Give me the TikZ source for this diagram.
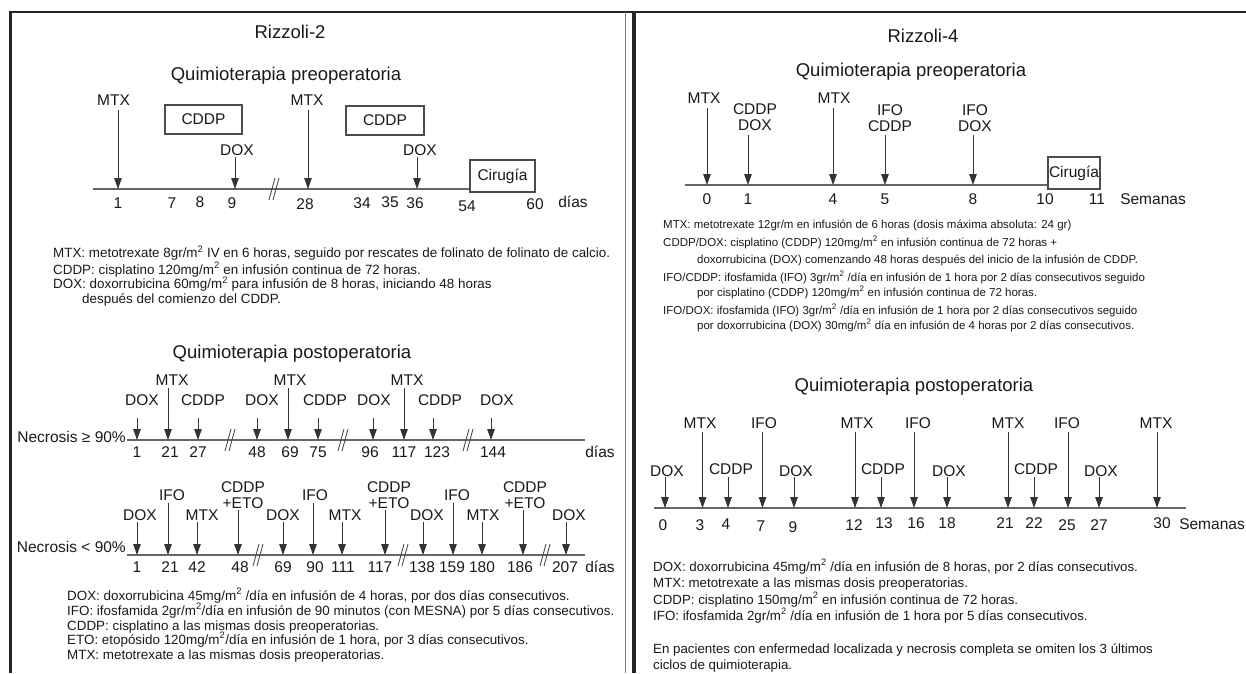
\documentclass[tikz,border=0pt]{standalone}
\usepackage{fontspec}
\setmainfont{Liberation Sans}
\usetikzlibrary{arrows.meta}
\newcommand\sq{\textsuperscript{2}}
\begin{document}
\begin{tikzpicture}[x=1pt,y=-1pt,
  lbl/.style={font=\fontsize{15.5}{16}\selectfont, inner sep=0pt, text=black!90, align=center},
  ttl/.style={font=\fontsize{18.5}{20}\selectfont, inner sep=0pt, anchor=base, text=black!90},
  num/.style={font=\fontsize{15.5}{16}\selectfont, inner sep=0pt, text=black!90},
  sm/.style={font=\fontsize{11.5}{14}\selectfont, inner sep=0pt, anchor=base west, text=black!90},
  smL/.style={font=\fontsize{13.4}{15}\selectfont, inner sep=0pt, anchor=base west, text=black!90},
  smR/.style={font=\fontsize{13.3}{15}\selectfont, inner sep=0pt, anchor=base west, text=black!90},
  arr/.style={draw=black!80, line width=1pt, -{Triangle[length=11pt,width=7.5pt]}},
  tline/.style={draw=black!60, line width=1.5pt},
  bx/.style={draw=black!70, line width=1.2pt, inner sep=0pt, font=\fontsize{15.5}{16}\selectfont, text=black!90},
  frm/.style={draw=black!85, line width=3pt},
  brk/.pic={\draw[black!70, line width=0.9pt] (-5,11) -- (1,-11) (-1,11) -- (5,-11);}]
\useasboundingbox (0,0) rectangle (1246,673);
% frames
\draw[frm, line width=2.5pt] (10,12) -- (1246,12);
\draw[frm] (10,11) -- (10,673);
\draw[draw=black!50, line width=0.8pt] (625,12) -- (625,673);
\draw[frm, line width=3.5pt] (634,11) -- (634,673);

% ================= LEFT PANEL =================
\node[ttl] (t2) at (290,38.5) {Rizzoli-2};
\node[ttl] (q2a) at (286,80) {Quimioterapia preoperatoria};
\node[bx, minimum width=77pt, minimum height=29pt] (cd1) at (203.5,119.5) {CDDP};
\node[bx, minimum width=78pt, minimum height=29pt] (cd2) at (385,120.5) {CDDP};
\node[bx, minimum width=65pt, minimum height=32pt] (cirL) at (502.5,176) {Cirugía};
\coordinate (tlA) at (93,189);
\draw[tline] (tlA) -- (tlA -| cirL.west);
\foreach \x/\ys/\lx/\ly/\t [count=\i] in {118/110/113.5/100/MTX, 235/157/237/150/DOX, 308/110/307/100/MTX, 417/157/420/150/DOX}{
  \node[lbl] (pa\i) at (\lx,\ly) {\t};
  \coordinate (pas\i) at (\x,\ys);
  \coordinate (pae\i) at (\x,189);
  \draw[arr] (pas\i) -- (pae\i);
}
\pic at (274,189) {brk};
\foreach \x/\y/\t [count=\i] in {118/203/1, 172/203/7, 200/202/8, 232/203/9, 305/204/28, 362/203/34, 390/202/35, 415/203/36, 467/206/54, 535/204/60, 573/202/días}{
  \node[num] (pn\i) at (\x,\y) {\t};
}
\node[smL] (la1) at (53,257.5) {MTX: metotrexate 8gr/m\sq{} IV en 6 horas, seguido por rescates de folinato de folinato de calcio.};
\node[smL] (la2) at (53,274) {CDDP: cisplatino 120mg/m\sq{} en infusión continua de 72 horas.};
\node[smL] (la3) at (53,288.5) {DOX: doxorrubicina 60mg/m\sq{} para infusión de 8 horas, iniciando 48 horas};
\node[smL] (la4) at (82,303) {después del comienzo del CDDP.};

\node[ttl] (q2b) at (292,358) {Quimioterapia postoperatoria};
% row 1
\node[lbl, anchor=east] (nec1) at (126,437) {Necrosis ≥ 90\%};
\coordinate (tlB) at (127,440);
\coordinate (tlBe) at (585,440);
\draw[tline] (tlB) -- (tlBe);
\foreach \x/\ys/\lx/\ly/\t [count=\i] in {137/418/142/400/DOX, 168/388/172/380/MTX, 198/418/203/400/CDDP, 257/418/262/400/DOX, 288/388/290/380/MTX, 318/418/325/400/CDDP, 373/418/374/400/DOX, 404/388/407/380/MTX, 433/418/440/400/CDDP, 491/418/497/400/DOX}{
  \node[lbl] (r1\i) at (\lx,\ly) {\t};
  \coordinate (r1s\i) at (\x,\ys);
  \coordinate (r1e\i) at (\x,440);
  \draw[arr] (r1s\i) -- (r1e\i);
}
\foreach \x in {230,343,468}{ \pic at (\x,440) {brk}; }
\foreach \x/\t [count=\i] in {137/1, 170/21, 198/27, 257/48, 290/69, 318/75, 370/96, 404/117, 437/123, 493/144, 600/días}{
  \node[num] (r1n\i) at (\x,452) {\t};
}
% row 2
\node[lbl, anchor=east] (nec2) at (126,547) {Necrosis < 90\%};
\coordinate (tlC) at (127,555);
\coordinate (tlCe) at (585,555);
\draw[tline] (tlC) -- (tlCe);
\foreach \x/\ys/\lx/\ly/\t [count=\i] in {137/522/140/515/DOX, 168/503/172/495/IFO, 197/522/202/515/MTX, 238/510/243/495/{CDDP\\+ETO}, 283/522/283/515/DOX, 313/503/315/495/IFO, 342/522/345/515/MTX, 385/510/389/495/{CDDP\\+ETO}, 423/522/427/515/DOX, 453/503/457/495/IFO, 482/522/483/515/MTX, 523/510/525/495/{CDDP\\+ETO}, 566/522/569/515/DOX}{
  \node[lbl] (r2\i) at (\lx,\ly) {\t};
  \coordinate (r2s\i) at (\x,\ys);
  \coordinate (r2e\i) at (\x,555);
  \draw[arr] (r2s\i) -- (r2e\i);
}
\foreach \x in {258,403,545}{ \pic at (\x,555) {brk}; }
\foreach \x/\t [count=\i] in {137/1, 170/21, 197/42, 240/48, 283/69, 315/90, 343/111, 380/117, 422/138, 452/159, 482/180, 520/186, 565/207, 600/días}{
  \node[num] (r2n\i) at (\x,567) {\t};
}
\node[smL] (lb1) at (67,600) {DOX: doxorrubicina 45mg/m\sq{} /día en infusión de 4 horas, por dos días consecutivos.};
\node[smL] (lb2) at (67,615) {IFO: ifosfamida 2gr/m\sq{}/día en infusión de 90 minutos (con MESNA) por 5 días consecutivos.};
\node[smL] (lb3) at (67,630) {CDDP: cisplatino a las mismas dosis preoperatorias.};
\node[smL] (lb4) at (67,644) {ETO: etopósido 120mg/m\sq{}/día en infusión de 1 hora, por 3 días consecutivos.};
\node[smL] (lb5) at (67,659) {MTX: metotrexate a las mismas dosis preoperatorias.};

% ================= RIGHT PANEL =================
\node[ttl] (t4) at (923,42) {Rizzoli-4};
\node[ttl] (q4a) at (911,76) {Quimioterapia preoperatoria};
\node[bx, minimum width=52pt, minimum height=32pt] (cirR) at (1074,173) {Cirugía};
\coordinate (tlD) at (685,185);
\draw[tline] (tlD) -- (tlD -| cirR.west);
\foreach \x/\ys/\lx/\ly/\t [count=\i] in {707/108/704/98/MTX, 748/135/755/117/{CDDP\\DOX}, 833/108/834/98/MTX, 885/135/890/118.5/{IFO\\CDDP}, 973/135/975/118/{IFO\\DOX}}{
  \node[lbl] (pb\i) at (\lx,\ly) {\t};
  \coordinate (pbs\i) at (\x,\ys);
  \coordinate (pbe\i) at (\x,185);
  \draw[arr] (pbs\i) -- (pbe\i);
}
\foreach \x/\t [count=\i] in {707/0, 748/1, 833/4, 885/5, 973/8, 1045/10, 1097/11, 1153/Semanas}{
  \node[num] (pbn\i) at (\x,199) {\t};
}
\node[sm] (ra1) at (663,228) {MTX: metotrexate 12gr/m en infusión de 6 horas (dosis máxima absoluta: 24 gr)};
\node[sm] (ra2) at (663,246) {CDDP/DOX: cisplatino (CDDP) 120mg/m\sq{} en infusión continua de 72 horas +};
\node[sm] (ra3) at (697,263) {doxorrubicina (DOX) comenzando 48 horas después del inicio de la infusión de CDDP.};
\node[sm] (ra4) at (663,281) {IFO/CDDP: ifosfamida (IFO) 3gr/m\sq{} /día en infusión de 1 hora por 2 días consecutivos seguido};
\node[sm] (ra5) at (697,296) {por cisplatino (CDDP) 120mg/m\sq{} en infusión continua de 72 horas.};
\node[sm] (ra6) at (663,314) {IFO/DOX: ifosfamida (IFO) 3gr/m\sq{} /día en infusión de 1 hora por 2 días consecutivos seguido};
\node[sm] (ra7) at (697,329) {por doxorrubicina (DOX) 30mg/m\sq{} día en infusión de 4 horas por 2 días consecutivos.};

\node[ttl] (q4b) at (914,391) {Quimioterapia postoperatoria};
\coordinate (tlE) at (654,508);
\coordinate (tlEe) at (1186,508);
\draw[tline] (tlE) -- (tlEe);
\foreach \x/\ys/\lx/\ly/\t [count=\i] in {665/477/667/471/DOX, 702.5/432/700/423/MTX, 728/477/731/469/CDDP, 762.5/432/764/423/IFO, 794/477/796/471/DOX, 855/432/857/423/MTX, 881/477/883/469/CDDP, 914/432/918/423/IFO, 947/477/949/471/DOX, 1008/432/1008/423/MTX, 1034/477/1036/469/CDDP, 1068/432/1067/423/IFO, 1099/477/1101/471/DOX, 1157/432/1156/423/MTX}{
  \node[lbl] (qb\i) at (\lx,\ly) {\t};
  \coordinate (qbs\i) at (\x,\ys);
  \coordinate (qbe\i) at (\x,508);
  \draw[arr] (qbs\i) -- (qbe\i);
}
\foreach \x/\y/\t [count=\i] in {663/525/0, 700/525/3, 726/524/4, 761/526/7, 793/527/9, 854/525/12, 884/523/13, 916/523/16, 947/523/18, 1005/523/21, 1034/523/22, 1067/525/25, 1099/525/27, 1162/523/30, 1212/524/Semanas}{
  \node[num] (qbn\i) at (\x,\y) {\t};
}
\node[smR] (rb1) at (653,571) {DOX: doxorrubicina 45mg/m\sq{} /día en infusión de 8 horas, por 2 días consecutivos.};
\node[smR] (rb2) at (653,587) {MTX: metotrexate a las mismas dosis preoperatorias.};
\node[smR] (rb3) at (653,604) {CDDP: cisplatino 150mg/m\sq{} en infusión continua de 72 horas.};
\node[smR] (rb4) at (653,620) {IFO: ifosfamida 2gr/m\sq{} /día en infusión de 1 hora por 5 días consecutivos.};
\node[smR] (rb5) at (653,653) {En pacientes con enfermedad localizada y necrosis completa se omiten los 3 últimos};
\node[smR] (rb6) at (653,669) {ciclos de quimioterapia.};
\end{tikzpicture}
\end{document}
